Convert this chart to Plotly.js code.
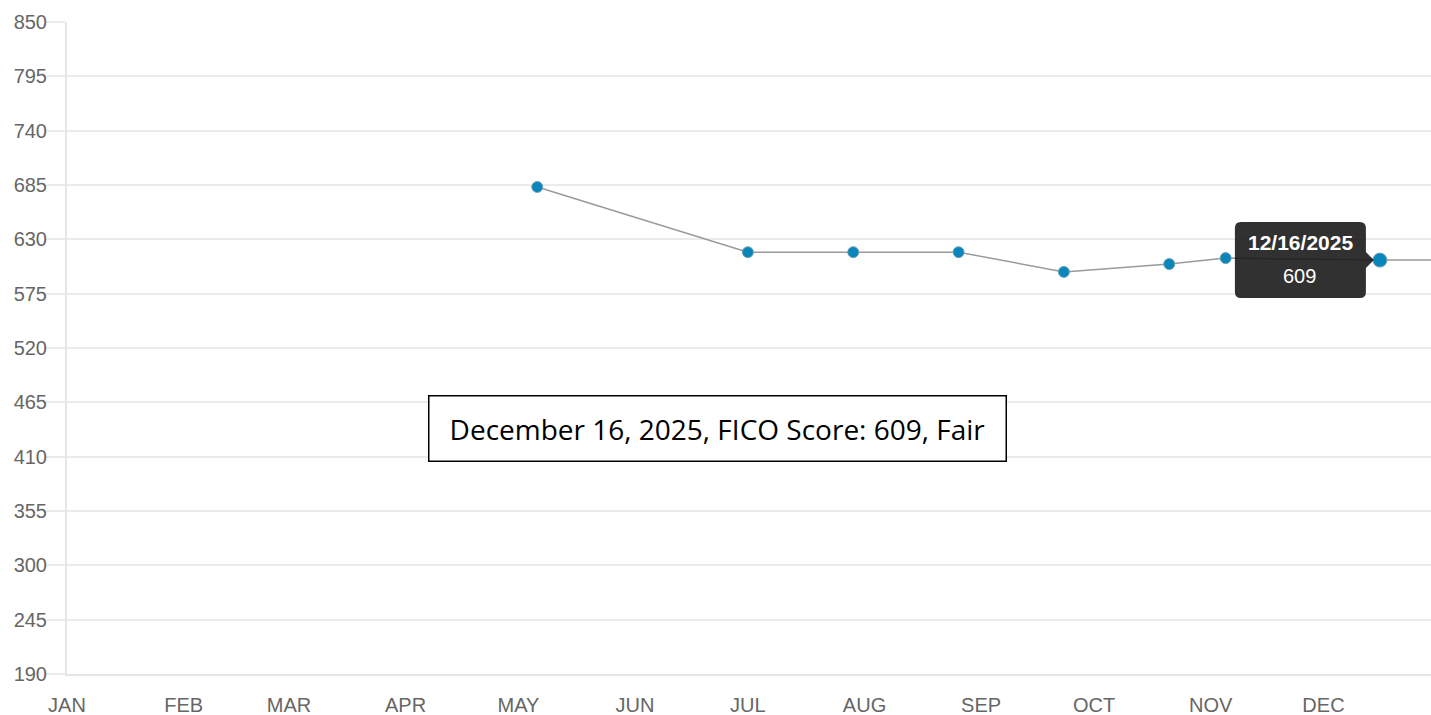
<!DOCTYPE html>
<html>
<head>
<meta charset="utf-8">
<script src="https://cdn.plot.ly/plotly-3.0.1.min.js"></script>
<style>html,body{margin:0;padding:0;background:#fff;}#chart{width:1431px;height:715px;}</style>
</head>
<body>
<div id="chart"></div>
<script>
// Score history (dates)
const scoreDates = ['2025-05-06','2025-07-01','2025-07-29','2025-08-26','2025-09-23','2025-10-21','2025-11-05','2025-12-16','2026-01-13'];
const scoreValues = [683, 617, 617, 617, 597, 605, 611, 609, 609];
const monthTickDates = ['2025-01-01','2025-02-01','2025-03-01','2025-04-01','2025-05-01','2025-06-01','2025-07-01','2025-08-01','2025-09-01','2025-10-01','2025-11-01','2025-12-01'];
const monthTickLabels = ['JAN','FEB','MAR','APR','MAY','JUN','JUL','AUG','SEP','OCT','NOV','DEC'];
const yTickVals = [190,245,300,355,410,465,520,575,630,685,740,795,850];
const tooltipDate = '2025-12-16';
const tooltipTitle = '12/16/2025';
const tooltipValue = 609;
const noteText = 'December 16, 2025, FICO Score: 609, Fair';

const hoverIdx = scoreDates.indexOf(tooltipDate);
const markerSizes = scoreDates.map((d, i) => i === hoverIdx ? 14 : 11);

const trace = {
  type: 'scatter',
  mode: 'lines+markers',
  x: scoreDates,
  y: scoreValues,
  line: {color: '#9a9a9a', width: 1.5},
  marker: {color: '#0a86bb', size: markerSizes, opacity: 1, line: {color: '#6f9fb5', width: 1}},
  cliponaxis: true,
  hoverinfo: 'skip'
};

const layout = {
  width: 1431, height: 715,
  margin: {l: 67, r: 0, t: 22, b: 41},
  paper_bgcolor: '#ffffff', plot_bgcolor: '#ffffff',
  showlegend: false,
  xaxis: {
    type: 'date',
    range: ['2025-01-01', '2025-12-29 14:00'],
    tickvals: monthTickDates,
    ticktext: monthTickLabels,
    showgrid: false, zeroline: false,
    showline: true, linecolor: '#e6e6e6', linewidth: 2,
    ticks: '', ticklabelstandoff: 12,
    tickfont: {family: 'Liberation Sans, Arial, sans-serif', size: 20, color: '#666666'}
  },
  yaxis: {
    range: [190, 850],
    tickvals: yTickVals,
    showgrid: true, gridcolor: '#ebebeb', gridwidth: 2,
    zeroline: false,
    showline: true, linecolor: '#e6e6e6', linewidth: 2,
    ticks: 'outside', ticklen: 19, tickcolor: '#ebebeb', tickwidth: 2,
    ticklabelstandoff: -5,
    tickfont: {family: 'Liberation Sans, Arial, sans-serif', size: 20, color: '#666666'}
  },
  shapes: [{
    type: 'path', layer: 'above',
    xref: 'x', yref: 'y',
    xsizemode: 'pixel', ysizemode: 'pixel',
    xanchor: tooltipDate, yanchor: tooltipValue,
    path: 'M -139,38 L -20,38 Q -14,38 -14,32 L -14,8 L -6,0 L -14,-8 L -14,-32 Q -14,-38 -20,-38 L -139,-38 Q -145,-38 -145,-32 L -145,32 Q -145,38 -139,38 Z',
    fillcolor: 'rgba(20,20,20,0.88)',
    line: {width: 0}
  }],
  annotations: [
    {x: tooltipDate, y: tooltipValue, xref: 'x', yref: 'y', showarrow: false,
     xshift: -79, yshift: 18, text: '<b>' + tooltipTitle + '</b>',
     font: {family: 'Liberation Sans, Arial, sans-serif', size: 21, color: '#ffffff'}},
    {x: tooltipDate, y: tooltipValue, xref: 'x', yref: 'y', showarrow: false,
     xshift: -80, yshift: -16, text: String(tooltipValue),
     font: {family: 'Liberation Sans, Arial, sans-serif', size: 20, color: '#ffffff'}},
    {x: 0.4769, y: 0.3765, xref: 'paper', yref: 'paper', showarrow: false,
     xanchor: 'center', yanchor: 'middle',
     text: noteText, width: 576, height: 64, borderpad: 0,
     bgcolor: '#ffffff', bordercolor: '#000000', borderwidth: 1.5,
     font: {family: 'Open Sans, sans-serif', size: 28, color: '#000000'}}
  ]
};

Plotly.newPlot('chart', [trace], layout, {staticPlot: true, displayModeBar: false});
</script>
</body>
</html>
